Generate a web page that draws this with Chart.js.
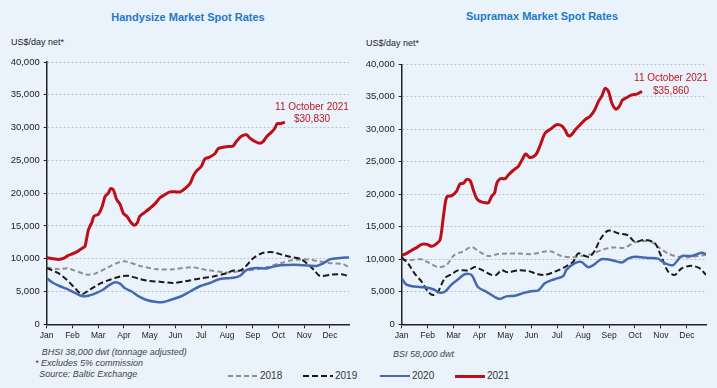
<!DOCTYPE html>
<html>
<head>
<meta charset="utf-8">
<script src="https://cdn.jsdelivr.net/npm/chart.js@4.4.1/dist/chart.umd.min.js"></script>
<style>
    body { margin: 0; width: 717px; height: 388px; background: #eaf3fc; position: relative; overflow: hidden;
           font-family: Arial, "Liberation Sans", sans-serif; }
    .abs { position: absolute; white-space: nowrap; line-height: 1; }
    .title { font-weight: bold; font-size: 11px; color: #1f79c6; transform: translateX(-50%); }
    .unit { font-size: 9px; color: #222; }
    .note { font-size: 10px; color: #c0151c; transform: translateX(-50%); }
    .foot { font-size: 9px; color: #444; font-style: italic; }
    .leg { font-size: 10px; color: #333; }
    .swatch { position: absolute; }
    canvas { position: absolute; top: 0; }
</style>
</head>
<body>

<div class="abs title" style="left:188px; top:11.5px;">Handysize Market Spot Rates</div>
<div class="abs title" style="left:542px; top:10.5px;">Supramax Market Spot Rates</div>
<div class="abs unit" style="left:11px; top:38px;">US$/day net*</div>
<div class="abs unit" style="left:366px; top:39px;">US$/day net*</div>

<canvas id="handysize" width="358" height="345" style="left:0;"></canvas>
<canvas id="supramax" width="362" height="345" style="left:355px;"></canvas>

<div class="abs note" style="left:312px; top:101.7px;">11 October 2021</div>
<div class="abs note" style="left:312px; top:114.3px;">$30,830</div>
<div class="abs note" style="left:671px; top:72.7px;">11 October 2021</div>
<div class="abs note" style="left:671px; top:85.7px;">$35,860</div>

<div class="abs foot" style="left:41.7px; top:347.8px;">BHSI 38,000 dwt (tonnage adjusted)</div>
<div class="abs foot" style="left:35px; top:358.8px;">* Excludes 5% commission</div>
<div class="abs foot" style="left:39.3px; top:369.8px;">Source: Baltic Exchange</div>
<div class="abs foot" style="left:393px; top:349.8px;">BSI 58,000 dwt</div>

<div id="legend"></div>

<script>
// x values are months from 1 Jan (0 = Jan, 11 = Dec)
const months = ['Jan', 'Feb', 'Mar', 'Apr', 'May', 'Jun', 'Jul', 'Aug', 'Sep', 'Oct', 'Nov', 'Dec'];
const years = ['2018', '2019', '2020', '2021'];

// Handysize (BHSI), US$/day
const handy2018 = [[0, 8670], [0.5, 8400], [0.8, 8550], [1.55, 7600], [1.9, 7750], [2.33, 8600], [2.98, 9600],
    [3.62, 8900], [4.27, 8400], [4.92, 8400], [5.63, 8700], [6.2, 8300], [7.0, 7900], [7.5, 8100], [8.03, 8300],
    [8.54, 8700], [9.06, 9300], [9.58, 9800], [10.1, 9900], [10.6, 9600], [11.1, 9300], [11.5, 9200], [11.74, 8700]];
const handy2019 = [[0, 8600], [0.45, 7800], [0.78, 6800], [1.1, 5500], [1.36, 4600], [1.68, 5300], [2.07, 6200],
    [2.46, 6800], [2.85, 7300], [3.17, 7400], [3.62, 6900], [4.01, 6600], [4.4, 6500], [4.92, 6300], [5.43, 6600],
    [5.95, 7000], [6.47, 7300], [6.99, 7800], [7.25, 8200], [7.51, 8200], [7.7, 8700], [8.03, 10100], [8.41, 10900],
    [8.8, 11000], [9.06, 10700], [9.45, 10300], [9.84, 10000], [10.1, 9300], [10.4, 8200], [10.6, 7400],
    [11.1, 7600], [11.5, 7600], [11.74, 7300]];
const handy2020 = [[0, 7000], [0.26, 6300], [0.52, 5800], [0.78, 5400], [1.04, 4900], [1.3, 4400], [1.55, 4300],
    [1.94, 4800], [2.2, 5300], [2.4, 5900], [2.65, 6400], [2.85, 6200], [3.04, 5500], [3.3, 5000], [3.56, 4300],
    [3.88, 3700], [4.27, 3400], [4.53, 3400], [4.79, 3700], [5.18, 4200], [5.57, 5000], [5.95, 5800], [6.34, 6300],
    [6.73, 6900], [7.25, 7100], [7.51, 7400], [7.77, 8300], [8.16, 8600], [8.54, 8500], [8.8, 8800], [9.06, 9000],
    [9.58, 9100], [9.96, 9000], [10.48, 8900], [10.74, 9300], [11.0, 9900], [11.4, 10100], [11.74, 10200]];
const handy2021 = [[0, 10150], [0.26, 10000], [0.45, 9900], [0.65, 10050], [0.84, 10500], [1.04, 10800],
    [1.23, 11200], [1.42, 11700], [1.49, 11900], [1.62, 14400], [1.75, 15500], [1.84, 16500], [2.01, 16800],
    [2.14, 17800], [2.27, 19500], [2.39, 20000], [2.49, 20700], [2.59, 20500], [2.72, 19000], [2.85, 18300],
    [2.98, 16900], [3.13, 16400], [3.26, 15600], [3.4, 15100], [3.52, 15500], [3.62, 16500], [3.82, 17100],
    [4.01, 17700], [4.21, 18400], [4.4, 19300], [4.6, 19800], [4.79, 20200], [4.98, 20200], [5.18, 20200],
    [5.37, 20700], [5.57, 21500], [5.69, 22600], [5.82, 23400], [6.01, 24100], [6.14, 25200], [6.33, 25500],
    [6.53, 26000], [6.66, 26800], [6.85, 27000], [7.05, 27100], [7.24, 27200], [7.37, 27900], [7.57, 28700],
    [7.76, 28900], [7.89, 28400], [8.08, 27900], [8.28, 27600], [8.41, 27900], [8.54, 28600], [8.73, 29300],
    [8.86, 29900], [8.95, 30600], [9.08, 30600], [9.25, 30830]];

// Supramax (BSI), US$/day
const supra2018 = [[0, 9900], [0.37, 9900], [0.76, 10000], [1.08, 9400], [1.4, 8800], [1.72, 9100], [2.04, 10700],
    [2.37, 11200], [2.69, 11900], [2.95, 11300], [3.33, 10500], [3.72, 10800], [4.1, 10900], [4.49, 10900],
    [5.0, 10800], [5.52, 11200], [5.78, 11200], [6.16, 10500], [6.55, 10300], [6.93, 10500], [7.32, 10800],
    [7.7, 11400], [8.09, 11800], [8.6, 11800], [8.99, 12600], [9.37, 12800], [9.63, 12700], [9.89, 11900],
    [10.28, 10900], [10.66, 10400], [11.05, 10300], [11.44, 10500], [11.74, 10700]];
const supra2019 = [[0, 10300], [0.24, 9400], [0.5, 7800], [0.76, 6600], [1.02, 5000], [1.21, 4500], [1.4, 5000],
    [1.66, 7100], [1.92, 7700], [2.17, 8300], [2.56, 8300], [2.82, 8800], [3.07, 8400], [3.46, 7600], [3.65, 7600],
    [3.85, 8300], [4.1, 8000], [4.49, 8300], [4.88, 8200], [5.26, 7700], [5.52, 7600], [5.91, 8100], [6.29, 8800],
    [6.61, 9600], [6.81, 10900], [7.07, 10500], [7.26, 10400], [7.46, 11400], [7.65, 13000], [7.91, 14300],
    [8.09, 14400], [8.35, 14000], [8.73, 13700], [8.99, 12700], [9.37, 13000], [9.76, 12500], [10.02, 10400],
    [10.28, 8100], [10.54, 7600], [10.8, 8600], [11.18, 9000], [11.5, 8600], [11.74, 7600]];
const supra2020 = [[0, 7100], [0.18, 6100], [0.5, 5800], [0.88, 5700], [1.21, 5400], [1.46, 4900], [1.66, 5000],
    [1.92, 6100], [2.17, 6900], [2.43, 7700], [2.69, 7600], [2.95, 5700], [3.27, 5000], [3.59, 4200], [3.78, 3900],
    [4.04, 4300], [4.36, 4400], [4.68, 4800], [5.0, 5100], [5.26, 5200], [5.52, 6300], [5.78, 6800], [6.03, 7100],
    [6.23, 7400], [6.36, 8400], [6.68, 9400], [6.93, 9600], [7.19, 8800], [7.39, 9100], [7.7, 10000], [8.09, 9900],
    [8.48, 9500], [8.73, 10100], [8.99, 10400], [9.5, 10200], [9.89, 10100], [10.15, 9400], [10.47, 9100],
    [10.8, 10500], [11.18, 10500], [11.57, 11000], [11.74, 10800]];
const supra2021 = [[0, 10600], [0.19, 10900], [0.39, 11400], [0.58, 11800], [0.77, 12300], [0.97, 12300],
    [1.16, 12000], [1.31, 12300], [1.48, 13000], [1.61, 16600], [1.74, 19600], [1.93, 19800], [2.12, 20500],
    [2.25, 21600], [2.38, 21700], [2.51, 22300], [2.64, 22100], [2.77, 20600], [2.9, 19300], [3.02, 18900],
    [3.22, 18700], [3.35, 18700], [3.47, 19700], [3.58, 20200], [3.67, 21700], [3.8, 22400], [3.99, 22400],
    [4.12, 23000], [4.31, 23700], [4.5, 24300], [4.63, 25200], [4.79, 26200], [4.92, 25700], [5.08, 25800],
    [5.21, 26300], [5.34, 27500], [5.53, 29400], [5.73, 30000], [5.98, 30700], [6.18, 30500], [6.3, 29900],
    [6.43, 29000], [6.56, 29200], [6.69, 29900], [6.88, 30700], [7.08, 31500], [7.27, 32000], [7.46, 33100],
    [7.59, 34300], [7.72, 35100], [7.85, 36300], [7.98, 35800], [8.11, 34000], [8.26, 33100], [8.39, 33500],
    [8.52, 34500], [8.69, 34900], [8.88, 35300], [9.07, 35400], [9.27, 35860]];

const styles = {
    '2018': { color: '#8f8f8f', width: 2, dash: [5, 3] },
    '2019': { color: '#1a1a1a', width: 2, dash: [6, 3] },
    '2020': { color: '#4469b2', width: 2.5, dash: [] },
    '2021': { color: '#be0f16', width: 3, dash: [] }
};

const fontFamily = 'Arial, "Liberation Sans", sans-serif';

function makeChart(canvasId, seriesByYear, padTop, padRight) {
    // 2021 first so it is drawn on top
    let order = ['2021', '2020', '2019', '2018'];
    let datasets = order.map(year => ({
        label: year,
        data: seriesByYear[year].map(p => ({ x: p[0], y: p[1] })),
        borderColor: styles[year].color,
        borderWidth: styles[year].width,
        borderDash: styles[year].dash,
        pointRadius: 0,
        tension: 0.3,
        fill: false
    }));

    return new Chart(document.getElementById(canvasId), {
        type: 'line',
        data: { datasets: datasets },
        options: {
            responsive: false,
            animation: false,
            events: [],
            layout: { padding: { top: padTop, right: padRight, left: 0, bottom: 0 } },
            plugins: { legend: { display: false }, tooltip: { enabled: false } },
            scales: {
                x: {
                    type: 'linear',
                    min: 0,
                    max: 11.74,
                    afterFit: scale => { scale.height = 20.7; },
                    ticks: {
                        stepSize: 1,
                        includeBounds: false,
                        autoSkip: false,
                        maxRotation: 0,
                        padding: 2,
                        color: '#222',
                        font: { family: fontFamily, size: 8.5 },
                        callback: v => months[v]
                    },
                    grid: { drawOnChartArea: false, drawTicks: true, tickLength: 4, tickColor: '#222' },
                    border: { color: '#222', width: 1.5 }
                },
                y: {
                    min: 0,
                    max: 40000,
                    afterFit: scale => { scale.width = 46.7; },
                    ticks: {
                        stepSize: 5000,
                        padding: 4,
                        color: '#222',
                        font: { family: fontFamily, size: 9.5 },
                        callback: v => v.toLocaleString('en-US')
                    },
                    grid: { color: '#b9c4cc', lineWidth: 1, tickLength: 3, tickColor: '#222' },
                    border: { color: '#222', width: 1.5, dash: [2, 2] }
                }
            }
        }
    });
}

makeChart('handysize', { '2018': handy2018, '2019': handy2019, '2020': handy2020, '2021': handy2021 }, 62, 9);
makeChart('supramax', { '2018': supra2018, '2019': supra2019, '2020': supra2020, '2021': supra2021 }, 64.3, 11);

// legend across the bottom
const legendLeft = [228, 303, 380, 455];
const legend = document.getElementById('legend');
years.forEach((year, i) => {
    let s = styles[year];
    let line = document.createElement('div');
    line.className = 'swatch';
    line.style.left = legendLeft[i] + 'px';
    line.style.top = (376 - s.width / 2) + 'px';
    line.style.width = '30px';
    line.style.height = s.width + 'px';
    if (s.dash.length) {
        let period = s.dash[0] + s.dash[1];
        line.style.background = `repeating-linear-gradient(to right, ${s.color} 0 ${s.dash[0]}px, transparent ${s.dash[0]}px ${period}px)`;
    } else {
        line.style.background = s.color;
    }
    legend.appendChild(line);

    let txt = document.createElement('div');
    txt.className = 'abs leg';
    txt.style.left = (legendLeft[i] + 32) + 'px';
    txt.style.top = '371px';
    txt.textContent = year;
    legend.appendChild(txt);
});
</script>
</body>
</html>
